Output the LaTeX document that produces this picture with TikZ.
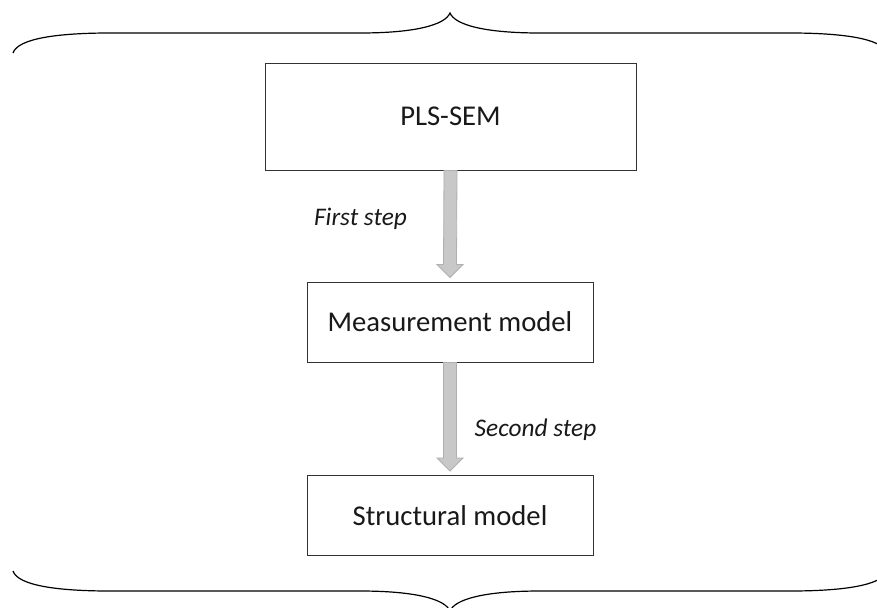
\documentclass[tikz,border=0pt]{standalone}
\usepackage{fontspec}
\setmainfont{Carlito}
\usetikzlibrary{calc}

\definecolor{arrowfill}{HTML}{C8C8C8}
\definecolor{arrowline}{HTML}{B0B0B0}

% gray block arrow from the bottom of one box to the top of the next
\newcommand{\blockarrow}[2]{%
  \filldraw[fill=arrowfill, draw=arrowline, line width=0.6pt]
    ($(#1.south)+(-6.5,0)$) -- ($(#2.north)+(-6.5,-13)$) -- ($(#2.north)+(-13,-13)$)
    -- (#2.north) -- ($(#2.north)+(13,-13)$) -- ($(#2.north)+(6.5,-13)$)
    -- ($(#1.south)+(6.5,0)$) -- cycle;}

\begin{document}
\begin{tikzpicture}[x=0.75pt, y=-0.75pt,
    box/.style={draw=black!80, line width=0.75pt, fill=white, align=center,
      text=black!90, font=\fontsize{21.5}{26}\selectfont},
    steplabel/.style={text=black!90, font=\fontsize{19}{23}\selectfont\itshape}]
    \clip (0,0) rectangle (877,607);
    \fill[white] (0,0) rectangle (877,607);

    % braces (top one, then the same one mirrored at the bottom)
    \foreach \s/\f in {0/1, 624/-1} {
      \begin{scope}[shift={(0,\s)}, yscale=\f]
        \draw[line width=0.9pt] (13,53) .. controls (18,38) and (60,33) .. (110,33)
          -- (360,33) .. controls (415,33) and (445,25) .. (450,13)
          .. controls (455,25) and (485,33) .. (540,33)
          -- (790,33) .. controls (840,33) and (882,38) .. (887,53);
      \end{scope}
    }

    % boxes
    \node[box, minimum width=278.25pt, minimum height=80.25pt] (pls) at (450.5,116.5) {PLS-SEM};
    \node[box, minimum width=214.5pt, minimum height=60pt] (meas) at (450,322) {Measurement model};
    \node[box, minimum width=214.5pt, minimum height=60pt] (struct) at (450,515.5) {Structural model};

    % arrows between the steps
    \coordinate (m1) at ($(meas.north)+(0,-4)$);
    \coordinate (s1) at ($(struct.north)+(0,-4)$);
    \blockarrow{pls}{m1}
    \blockarrow{meas}{s1}

    \node[steplabel] (first) at (360.5,219) {First step};
    \node[steplabel] (second) at (535.5,430) {Second step};
\end{tikzpicture}
\end{document}
